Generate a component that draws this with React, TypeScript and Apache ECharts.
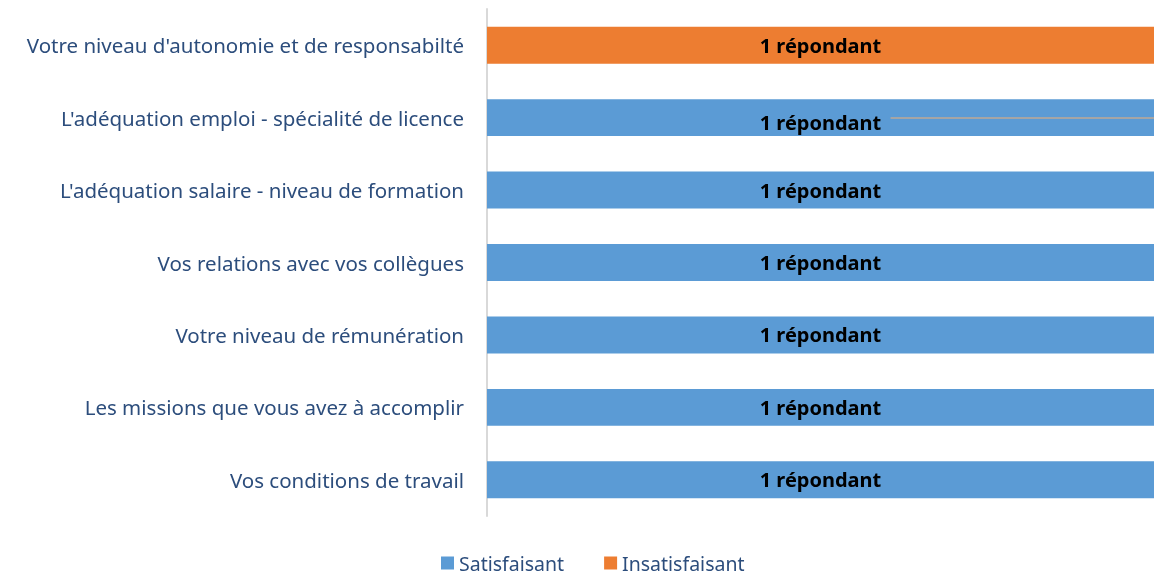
import React, { useEffect, useRef } from "react";
import * as echarts from "echarts";

const categories = [
  "Vos conditions de travail",
  "Les missions que vous avez à accomplir",
  "Votre niveau de rémunération",
  "Vos relations avec vos collègues",
  "L'adéquation salaire - niveau de formation",
  "L'adéquation emploi - spécialité de licence",
  "Votre niveau d'autonomie et de responsabilté",
];
const satisfaisant = [1, 1, 1, 1, 1, 1, 0];
const insatisfaisant = [0, 0, 0, 0, 0, 0, 1];
const seriesNames = ["Satisfaisant", "Insatisfaisant"];
const labelText = "1 répondant";

const FONT = "'Noto Sans', 'Open Sans', sans-serif";
const TEXT_BLUE = "#2C4D7C";

export default function App() {
  const ref = useRef<HTMLDivElement>(null);
  useEffect(() => {
    if (!ref.current) return;
    const chart = echarts.init(ref.current, undefined, { renderer: "svg" });
    const label = {
      show: true,
      position: "inside",
      formatter: (p: any) => (p.value > 0 ? labelText : ""),
      color: "#000",
      fontWeight: "bold",
      fontSize: 20,
      fontFamily: FONT,
    };
    chart.setOption({
      animation: false,
      textStyle: { fontFamily: FONT },
      grid: { left: 487, right: 0, top: 9, bottom: 59, containLabel: false },
      legend: {
        top: 553,
        left: 441,
        padding: 0,
        itemWidth: 13,
        itemHeight: 13,
        itemGap: 40,
        icon: "rect",
        textStyle: { color: TEXT_BLUE, fontSize: 19.5, fontFamily: FONT },
        data: seriesNames,
      },
      xAxis: {
        type: "value",
        min: 0,
        max: 1,
        show: false,
        splitLine: { show: false },
      },
      yAxis: {
        type: "category",
        data: categories,
        axisLine: { show: true, lineStyle: { color: "#D9D9D9", width: 2 } },
        axisTick: { show: false },
        axisLabel: {
          color: TEXT_BLUE,
          fontSize: 20.5,
          fontFamily: FONT,
          margin: 23,
        },
      },
      series: [
        {
          name: seriesNames[0],
          type: "bar",
          stack: "total",
          barCategoryGap: "49%",
          data: satisfaisant.map((v, i) =>
            i === 5 ? { value: v, label: { offset: [0, 5] } } : v
          ),
          itemStyle: { color: "#5B9BD5" },
          label,
          markLine: {
            silent: true,
            symbol: "none",
            label: { show: false },
            lineStyle: { color: "#A5A5A5", width: 2, type: "solid" },
            data: [
              [
                { coord: [0.605, categories[5]] },
                { coord: [1, categories[5]] },
              ],
            ],
          },
        },
        {
          name: seriesNames[1],
          type: "bar",
          stack: "total",
          barCategoryGap: "49%",
          data: insatisfaisant,
          itemStyle: { color: "#ED7D31" },
          label,
        },
      ],
    });
    return () => chart.dispose();
  }, []);
  return (
    <div
      ref={ref}
      style={{ position: "fixed", left: 0, top: 0, width: 1154, height: 575 }}
    />
  );
}
